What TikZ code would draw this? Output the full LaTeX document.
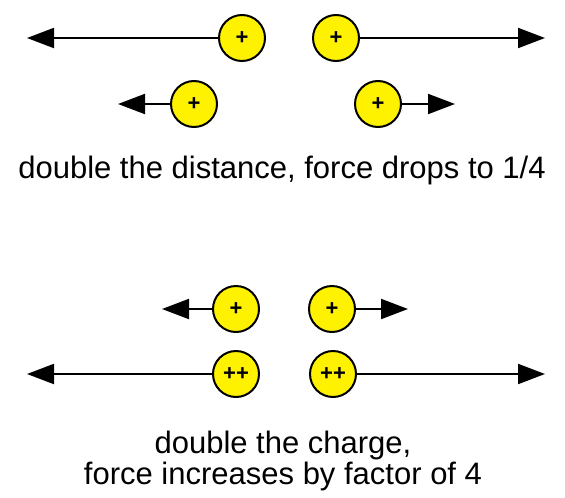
\documentclass[tikz,border=0pt]{standalone}
\usepackage{fontspec}
\setmainfont{Liberation Sans}
\usetikzlibrary{arrows.meta}

\begin{document}
\begin{tikzpicture}[x=1pt,y=-1pt,
  charge/.style={circle,draw,line width=2pt,fill=yellow,minimum size=46pt,inner sep=0pt,font=\fontsize{22}{22}\selectfont\bfseries},
  force/.style={-{Triangle[length=27pt,width=20pt]},line width=2pt},
  caption/.style={align=center,font=\fontsize{31}{31}\selectfont}]
\useasboundingbox (0,0) rectangle (565,498);
% distance
\node[charge] (A1) at (242,38) {+};
\node[charge] (A2) at (336,38) {+};
\node[charge] (B1) at (194,104) {+};
\node[charge] (B2) at (378,104) {+};
\coordinate (a1) at (27,38);
\coordinate (a2) at (545,38);
\coordinate (b1) at (118,104);
\coordinate (b2) at (455,104);
\draw[force] (A1)--(a1);
\draw[force] (A2)--(a2);
\draw[force] (B1)--(b1);
\draw[force] (B2)--(b2);
\node[caption] (T1) at (282,170) {double the distance, force drops to 1/4};
% charge
\node[charge] (C1) at (236,309) {+};
\node[charge] (C2) at (332,309) {+};
\node[charge] (D1) at (236,374) {++};
\node[charge] (D2) at (333,374) {++};
\coordinate (c1) at (162,309);
\coordinate (c2) at (408,309);
\coordinate (d1) at (27,374);
\coordinate (d2) at (545,374);
\draw[force] (C1)--(c1);
\draw[force] (C2)--(c2);
\draw[force] (D1)--(d1);
\draw[force] (D2)--(d2);
\node[caption] (T2) at (283,461) {double the charge,\\force increases by factor of 4};
\end{tikzpicture}
\end{document}
